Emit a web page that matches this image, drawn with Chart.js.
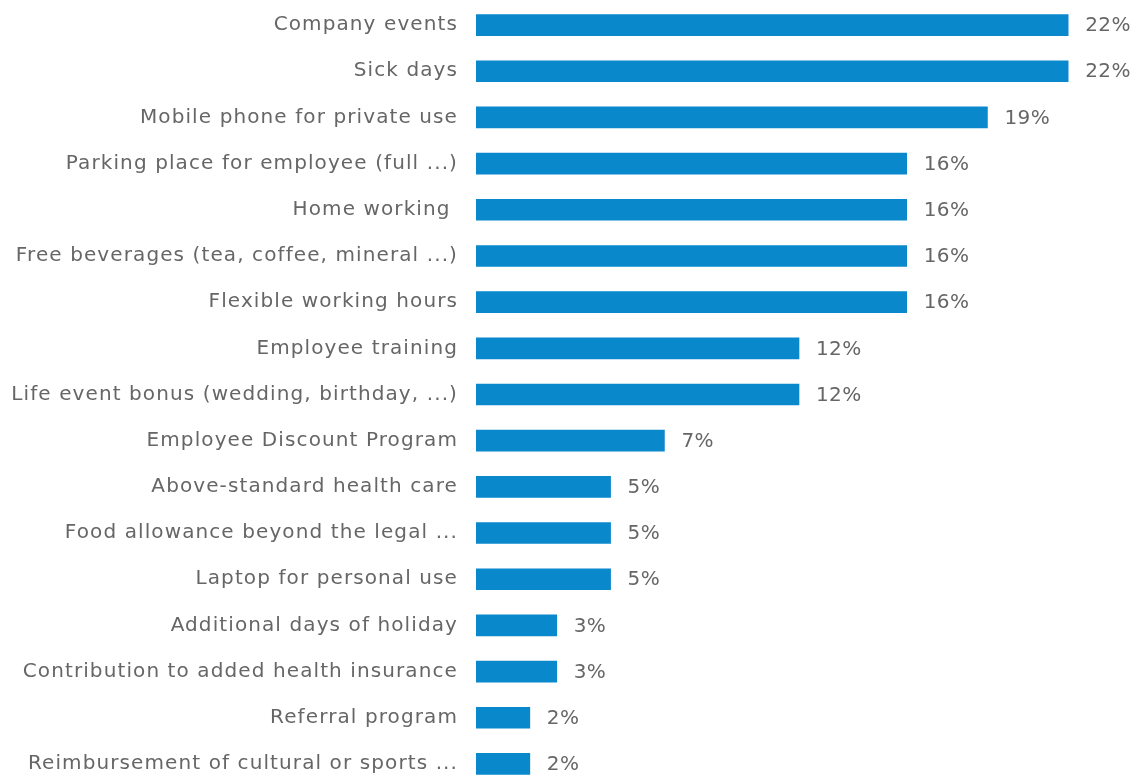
<!DOCTYPE html>
<html>
<head>
<meta charset="utf-8">
<script src="https://cdn.jsdelivr.net/npm/chart.js@4"></script>
<style>
  html, body { margin: 0; padding: 0; background: #fff; overflow: hidden; }
  #wrap { position: absolute; left: 0; top: 0; width: 1134px; height: 790px; }
</style>
</head>
<body>
<div id="wrap"><canvas id="benefits"></canvas></div>
<script>
// -------------------- Data --------------------
const benefitLabels = [
  "Company events",
  "Sick days",
  "Mobile phone for private use",
  "Parking place for employee (full ...)",
  "Home working ",
  "Free beverages (tea, coffee, mineral ...)",
  "Flexible working hours",
  "Employee training",
  "Life event bonus (wedding, birthday, ...)",
  "Employee Discount Program",
  "Above-standard health care",
  "Food allowance beyond the legal ...",
  "Laptop for personal use",
  "Additional days of holiday",
  "Contribution to added health insurance",
  "Referral program",
  "Reimbursement of cultural or sports ..."
];
const sharePercent = [22, 22, 19, 16, 16, 16, 16, 12, 12, 7, 5, 5, 5, 3, 3, 2, 2];

const barColor = "#0a88cc";
const textColor = "#666666";
const fontFamily = "'DejaVu Sans', Verdana, sans-serif";

// -------------------- Plugins --------------------
// the original text is set a bit wider than plain DejaVu, so space the letters out
const wideText = {
  id: "wideText",
  beforeDraw(chart) {
    chart.ctx.letterSpacing = "1.1px";
  }
};

const valueLabels = {
  id: "valueLabels",
  afterDatasetsDraw(chart) {
    const { ctx } = chart;
    const meta = chart.getDatasetMeta(0);
    ctx.save();
    ctx.letterSpacing = "0.4px";
    ctx.font = "20px " + fontFamily;
    ctx.fillStyle = textColor;
    ctx.textAlign = "left";
    ctx.textBaseline = "middle";
    meta.data.forEach((bar, i) => {
      ctx.fillText(sharePercent[i] + "%", bar.x + 17, bar.y + 1);
    });
    ctx.restore();
  }
};

// -------------------- Chart --------------------
const ctx = document.getElementById("benefits").getContext("2d");
new Chart(ctx, {
  type: "bar",
  data: {
    labels: benefitLabels,
    datasets: [{
      data: sharePercent,
      backgroundColor: barColor,
      borderWidth: 0,
      barThickness: 21,
      categoryPercentage: 1
    }]
  },
  options: {
    indexAxis: "y",
    responsive: true,
    maintainAspectRatio: false,
    animation: false,
    layout: { padding: { top: 2, bottom: 3, left: 0, right: 12 } },
    plugins: {
      legend: { display: false },
      tooltip: { enabled: false }
    },
    scales: {
      x: {
        display: false,
        min: 0,
        max: 24
      },
      y: {
        grid: { display: false, drawTicks: false },
        border: { display: false },
        afterFit: (scale) => {
          scale.width = 476;
          // labels sit in the middle of each band, no extra room needed above/below
          scale.paddingTop = 0;
          scale.paddingBottom = 0;
        },
        ticks: {
          padding: 18,
          color: textColor,
          font: { family: fontFamily, size: 20 }
        }
      }
    }
  },
  plugins: [wideText, valueLabels]
});
</script>
</body>
</html>
